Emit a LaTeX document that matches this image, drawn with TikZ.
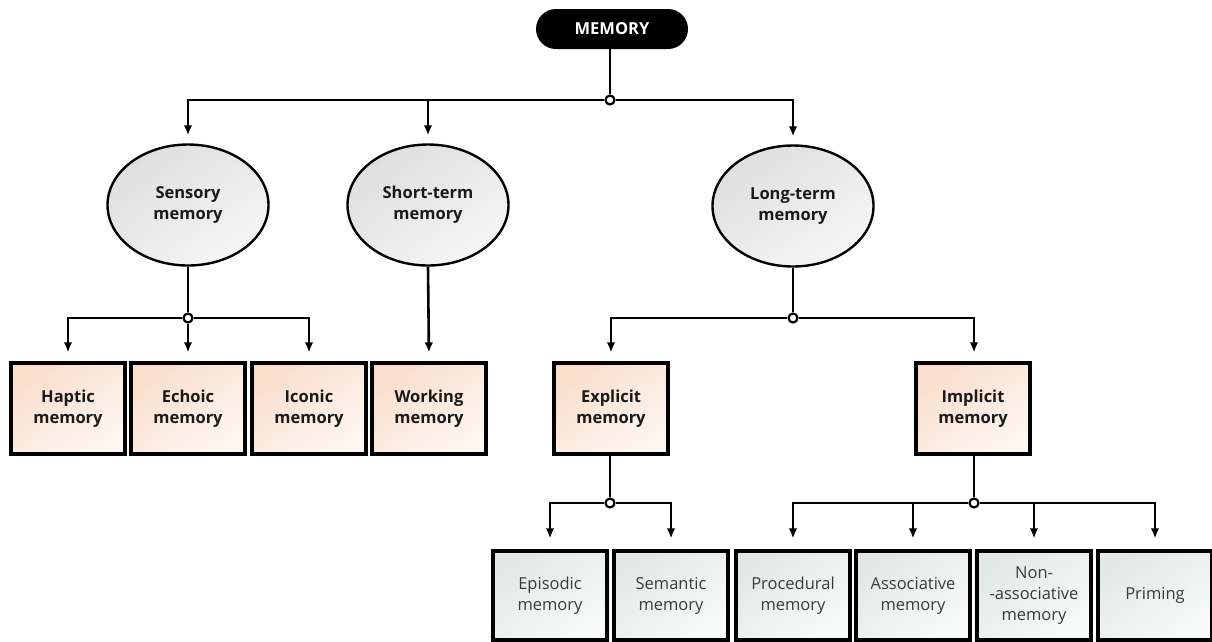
\documentclass[tikz,border=0pt]{standalone}
\usepackage{fontspec}
\setmainfont{Open Sans}
\usetikzlibrary{shapes.geometric,arrows.meta}
\definecolor{peachA}{HTML}{F9DECB}
\definecolor{peachB}{HTML}{FEF6F1}
\definecolor{grayA}{HTML}{DEDEDE}
\definecolor{grayB}{HTML}{F6F6F6}
\definecolor{mintA}{HTML}{E0E9E6}
\definecolor{mintB}{HTML}{F8FAF9}
\definecolor{txt}{HTML}{1A1A1A}
\definecolor{txtreg}{HTML}{3A3A3A}
\tikzset{
  toplbl/.style={rectangle, rounded corners=20pt, fill=black, minimum width=152pt, minimum height=40pt,
    text=white, font=\fontsize{16.5}{20}\selectfont\bfseries, inner sep=0pt},
  ell/.style={ellipse, draw, line width=2.4pt, minimum width=161pt, minimum height=121pt, inner sep=0pt,
    top color=grayA, bottom color=grayB, shading angle=35, align=center, text=txt,
    font=\fontsize{16.5}{21}\selectfont\bfseries},
  midbox/.style={rectangle, draw, line width=3.2pt, minimum width=114pt, minimum height=91pt, inner sep=0pt,
    top color=peachA, bottom color=peachB, shading angle=35, align=center, text=txt,
    font=\fontsize{16.5}{21}\selectfont\bfseries},
  lowbox/.style={rectangle, draw, line width=3.2pt, minimum width=114pt, minimum height=89pt, inner sep=0pt,
    top color=mintA, bottom color=mintB, shading angle=35, align=center, text=txtreg,
    font=\fontsize{16.5}{21}\selectfont},
  junc/.style={circle, draw, fill=white, line width=2.2pt, minimum size=9pt, inner sep=0pt},
  conn/.style={line width=2.6pt, -{Latex[length=10pt,width=8.5pt]}},
  plain/.style={line width=2.6pt},
}
\begin{document}
\begin{tikzpicture}[x=1pt,y=-1pt]
\useasboundingbox (0,0) rectangle (1212,641);
% nodes
\node[toplbl] (mem) at (612,29) {MEMORY};
\node[ell] (sens) at (188,205) {Sensory\\memory};
\node[ell] (stm) at (428,205) {Short-term\\memory};
\node[ell] (ltm) at (793,206) {Long-term\\memory};

\node[midbox] (hap) at (68,408.5) {Haptic\\memory};
\node[midbox] (ech) at (188,408.5) {Echoic\\memory};
\node[midbox] (ico) at (309,408.5) {Iconic\\memory};
\node[midbox] (wor) at (429,408.5) {Working\\memory};
\node[midbox] (exp) at (611,408.5) {Explicit\\memory};
\node[midbox] (imp) at (973,408.5) {Implicit\\memory};

\node[lowbox] (epi) at (550,595.5) {Episodic\\memory};
\node[lowbox] (sem) at (671,595.5) {Semantic\\memory};
\node[lowbox] (pro) at (793,595.5) {Procedural\\memory};
\node[lowbox] (ass) at (913,595.5) {Associative\\memory};
\node[lowbox] (non) at (1034,595.5) {Non-\\-associative\\memory};
\node[lowbox] (pri) at (1155,595.5) {Priming};

% junctions
\node[junc] (j0) at (610,100) {};
\node[junc] (j1) at (188,318) {};
\node[junc] (j2) at (793,318) {};
\node[junc] (j3) at (610,503) {};
\node[junc] (j4) at (974,503) {};

% connectors
\draw[plain] (mem.south -| j0) -- (j0);
\draw[conn, shorten >=8pt] (j0) -| (sens.north);
\draw[conn, shorten >=8pt] (j0) -| (stm.north);
\draw[conn, shorten >=8pt] (j0) -| (ltm.north);

\draw[plain] (sens.south) -- (j1);
\draw[conn, shorten >=9pt] (j1) -| (hap.north);
\draw[conn, shorten >=9pt] (j1) -- (ech.north);
\draw[conn, shorten >=9pt] (j1) -| (ico.north);

\draw[conn, shorten >=9pt] (stm.south) -- (wor.north);

\draw[plain] (ltm.south) -- (j2);
\draw[conn, shorten >=9pt] (j2) -| (exp.north);
\draw[conn, shorten >=9pt] (j2) -| (imp.north -| j4);

\draw[plain] (exp.south -| j3) -- (j3);
\draw[conn, shorten >=11pt] (j3) -| (epi.north);
\draw[conn, shorten >=11pt] (j3) -| (sem.north);

\draw[plain] (imp.south -| j4) -- (j4);
\draw[conn, shorten >=11pt] (j4) -| (pro.north);
\draw[conn, shorten >=11pt] (j4) -| (ass.north);
\draw[conn, shorten >=11pt] (j4) -| (non.north);
\draw[conn, shorten >=11pt] (j4) -| (pri.north);
\end{tikzpicture}
\end{document}
